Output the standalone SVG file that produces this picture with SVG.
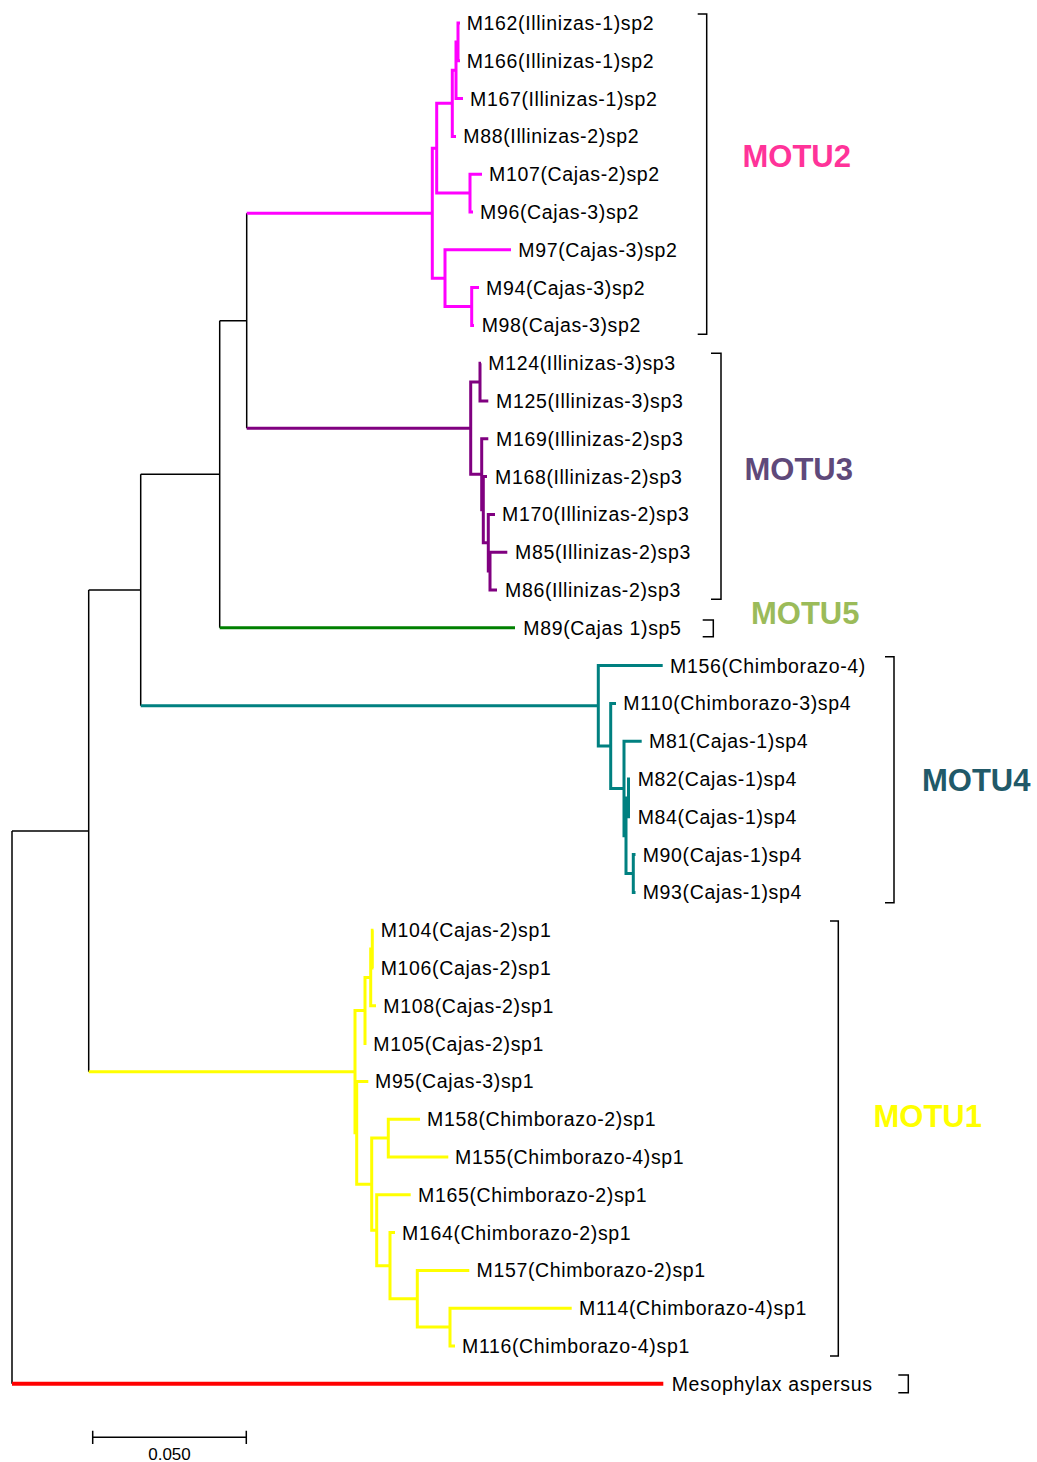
<svg xmlns="http://www.w3.org/2000/svg" width="1037" height="1462" viewBox="0 0 1037 1462">
<style>
.br{fill:none;stroke-linejoin:miter;stroke-linecap:butt}
.bk{stroke:#000;stroke-width:1.5}
.pk{stroke:#FF00FF;stroke-width:3}
.pu{stroke:#800080;stroke-width:3}
.gr{stroke:#008000;stroke-width:3}
.tl{stroke:#008080;stroke-width:3}
.yl{stroke:#FFFF00;stroke-width:3}
.rd{stroke:#FF0000;stroke-width:4}
.lb{font-family:"Liberation Sans",Arial,sans-serif;font-size:19.5px;letter-spacing:0.65px;fill:#000}
.mo{font-family:"Liberation Sans",Arial,sans-serif;font-size:31px;font-weight:bold}
.bkt{fill:none;stroke:#000;stroke-width:1.5}
.sc{font-family:"Liberation Sans",Arial,sans-serif;font-size:17px;fill:#000}
</style>
<rect width="1037" height="1462" fill="#fff"/>
<g id="connectors">
<path class="br bk" d="M246.7 213.2 V428.2 M219.7 320.7 H246.7 M219.7 320.7 V627.8 M140.7 474.25 H219.7 M140.7 474.25 V705.75 M88.7 590.1 H140.7 M88.7 590.1 V1071.65 M12 831 H88.7 M12 831 V1383.8"/>
<path class="br pk" d="M246.7 213.2 H432.3 M460 23 H458 V60.8 H460 M458 41.9 H456 V98.6 H463 M456 70.25 H452.3 V136.4 H456 M482 174.2 H470 V212 H473 M452.3 103.3 H436.7 V193.1 H470 M479 287.6 H471.7 V325.4 H474 M511 249.8 H445 V306.5 H471.7 M436.7 148.2 H432.3 V278.15 H445"/>
<path class="br pu" d="M246.7 428.2 H470.7 M481 363.2 H480 V401 H488.3 M507.3 552.2 H490 V590 H497 M495 514.4 H488.3 V571.1 H490 M487 476.6 H483.3 V542.75 H488.3 M488.3 438.8 H481.7 V509.7 H483.3 M480 382.1 H470.7 V474.25 H481.7"/>
<path class="br gr" d="M219.7 627.8 H515"/>
<path class="br tl" d="M140.7 705.75 H598.3 M662.7 665.6 H598.3 V745.9 H610.7 M616 703.4 H610.7 V788.45 H624 M641.7 741.2 H624 V835.7 H626 M628.5 797.9 H626 V873.5 H633.3 M630 779 H628.5 V816.8 H630 M635.5 854.6 H633.3 V892.4 H635.5"/>
<path class="br yl" d="M88.7 1071.65 H355 M373.5 930.2 H372.3 V968 H373.5 M372.3 949.1 H370.7 V1005.8 H376 M370.7 977.45 H365 V1043.6 H366.5 M571.7 1308.2 H450 V1346 H455 M469.3 1270.4 H417.3 V1327.1 H450 M395 1232.6 H390 V1298.75 H417.3 M410.7 1194.8 H376.7 V1265.7 H390 M420 1119.2 H388.3 V1157 H448.3 M388.3 1138.1 H371.7 V1230.25 H376.7 M368.3 1081.4 H356.7 V1184.2 H371.7 M365 1010.5 H355 V1132.8 H356.7"/>
<path class="br rd" d="M12 1383.8 H663.3"/>
</g>
<g id="tip-M162"><text class="lb" x="466.7" y="30">M162(Illinizas-1)sp2</text></g>
<g id="tip-M166"><text class="lb" x="466.7" y="67.8">M166(Illinizas-1)sp2</text></g>
<g id="tip-M167"><text class="lb" x="470" y="105.6">M167(Illinizas-1)sp2</text></g>
<g id="tip-M88"><text class="lb" x="463.3" y="143.4">M88(Illinizas-2)sp2</text></g>
<g id="tip-M107"><text class="lb" x="489" y="181.2">M107(Cajas-2)sp2</text></g>
<g id="tip-M96"><text class="lb" x="480" y="219">M96(Cajas-3)sp2</text></g>
<g id="tip-M97"><text class="lb" x="518.3" y="256.8">M97(Cajas-3)sp2</text></g>
<g id="tip-M94"><text class="lb" x="486" y="294.6">M94(Cajas-3)sp2</text></g>
<g id="tip-M98"><text class="lb" x="481.7" y="332.4">M98(Cajas-3)sp2</text></g>
<g id="tip-M124"><text class="lb" x="488.3" y="370.2">M124(Illinizas-3)sp3</text></g>
<g id="tip-M125"><text class="lb" x="496" y="408">M125(Illinizas-3)sp3</text></g>
<g id="tip-M169"><text class="lb" x="496" y="445.8">M169(Illinizas-2)sp3</text></g>
<g id="tip-M168"><text class="lb" x="495" y="483.6">M168(Illinizas-2)sp3</text></g>
<g id="tip-M170"><text class="lb" x="502" y="521.4">M170(Illinizas-2)sp3</text></g>
<g id="tip-M85"><text class="lb" x="515" y="559.2">M85(Illinizas-2)sp3</text></g>
<g id="tip-M86"><text class="lb" x="505" y="597">M86(Illinizas-2)sp3</text></g>
<g id="tip-M89"><text class="lb" x="523.3" y="634.8">M89(Cajas 1)sp5</text></g>
<g id="tip-M156"><text class="lb" x="670" y="672.6">M156(Chimborazo-4)</text></g>
<g id="tip-M110"><text class="lb" x="623.3" y="710.4">M110(Chimborazo-3)sp4</text></g>
<g id="tip-M81"><text class="lb" x="649" y="748.2">M81(Cajas-1)sp4</text></g>
<g id="tip-M82"><text class="lb" x="637.7" y="786">M82(Cajas-1)sp4</text></g>
<g id="tip-M84"><text class="lb" x="637.7" y="823.8">M84(Cajas-1)sp4</text></g>
<g id="tip-M90"><text class="lb" x="642.7" y="861.6">M90(Cajas-1)sp4</text></g>
<g id="tip-M93"><text class="lb" x="642.7" y="899.4">M93(Cajas-1)sp4</text></g>
<g id="tip-M104"><text class="lb" x="380.7" y="937.2">M104(Cajas-2)sp1</text></g>
<g id="tip-M106"><text class="lb" x="380.7" y="975">M106(Cajas-2)sp1</text></g>
<g id="tip-M108"><text class="lb" x="383.3" y="1012.8">M108(Cajas-2)sp1</text></g>
<g id="tip-M105"><text class="lb" x="373.3" y="1050.6">M105(Cajas-2)sp1</text></g>
<g id="tip-M95"><text class="lb" x="375" y="1088.4">M95(Cajas-3)sp1</text></g>
<g id="tip-M158"><text class="lb" x="427" y="1126.2">M158(Chimborazo-2)sp1</text></g>
<g id="tip-M155"><text class="lb" x="455" y="1164">M155(Chimborazo-4)sp1</text></g>
<g id="tip-M165"><text class="lb" x="418" y="1201.8">M165(Chimborazo-2)sp1</text></g>
<g id="tip-M164"><text class="lb" x="402" y="1239.6">M164(Chimborazo-2)sp1</text></g>
<g id="tip-M157"><text class="lb" x="476.5" y="1277.4">M157(Chimborazo-2)sp1</text></g>
<g id="tip-M114"><text class="lb" x="579" y="1315.2">M114(Chimborazo-4)sp1</text></g>
<g id="tip-M116"><text class="lb" x="462" y="1353">M116(Chimborazo-4)sp1</text></g>
<g id="tip-Mesophylax"><text class="lb" x="671.7" y="1390.8">Mesophylax aspersus</text></g>
<g id="MOTU2">
<path class="bkt" d="M697.7 14 H706.7 V334.3 H697.7"/>
<text class="mo" x="742.5" y="166.5" fill="#FF3399">MOTU2</text>
</g>
<g id="MOTU3">
<path class="bkt" d="M711 353.3 H721 V599.3 H711"/>
<text class="mo" x="744.5" y="479.8" fill="#5F497A">MOTU3</text>
</g>
<g id="MOTU5">
<path class="bkt" d="M702.7 620 H713.3 V636.7 H702.7"/>
<text class="mo" x="751" y="623.8" fill="#9BBB59">MOTU5</text>
</g>
<g id="MOTU4">
<path class="bkt" d="M885 656.7 H894 V902.7 H885"/>
<text class="mo" x="922" y="790.5" fill="#215968">MOTU4</text>
</g>
<g id="MOTU1">
<path class="bkt" d="M830 921 H838.3 V1356 H830"/>
<text class="mo" x="873.5" y="1127.2" fill="#FFFF00">MOTU1</text>
</g>
<g id="outgroup-bracket">
<path class="bkt" d="M898.3 1375 H908.3 V1392.7 H898.3"/>
</g>
<g id="scale-bar">
<path class="bkt" d="M92.7 1437.3 H246.3 M92.7 1430.7 V1444 M246.3 1430.7 V1444"/>
<text class="sc" x="169.5" y="1459.5" text-anchor="middle">0.050</text>
</g>
</svg>
